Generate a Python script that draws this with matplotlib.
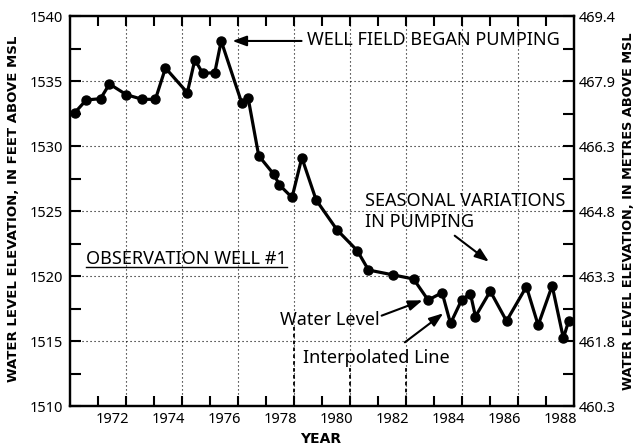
import numpy as np
import matplotlib.pyplot as plt
from matplotlib.lines import Line2D

# ==================== DATA ====================
# Water level readings, observation well #1 (year, feet above MSL)
years = [1970.67, 1971.08, 1971.59, 1971.91, 1972.51, 1973.08, 1973.55, 1973.91,
         1974.69, 1974.96, 1975.24, 1975.67, 1975.90, 1976.63, 1976.86, 1977.24,
         1977.78, 1977.98, 1978.43, 1978.78, 1979.29, 1980.04, 1980.76, 1981.16,
         1982.05, 1982.77, 1983.29, 1983.79, 1984.09, 1984.49, 1984.80, 1984.98,
         1985.51, 1986.09, 1986.80, 1987.22, 1987.72, 1988.12, 1988.31]
levels = [1532.56, 1533.54, 1533.64, 1534.77, 1533.95, 1533.59, 1533.59, 1536.00,
          1534.10, 1536.64, 1535.59, 1535.64, 1538.08, 1533.33, 1533.72, 1529.25,
          1527.82, 1527.00, 1526.04, 1529.10, 1525.85, 1523.54, 1521.95, 1520.46,
          1520.08, 1519.77, 1518.15, 1518.72, 1516.35, 1518.17, 1518.65, 1516.88,
          1518.83, 1516.54, 1519.18, 1516.22, 1519.25, 1515.22, 1516.55]

year_labels = [1972, 1974, 1976, 1978, 1980, 1982, 1984, 1986, 1988]
feet_ticks = [1510, 1515, 1520, 1525, 1530, 1535, 1540]
metre_labels = ['460.3', '461.8', '463.3', '464.8', '466.3', '467.9', '469.4']

REG = ['Noto Sans', 'DejaVu Sans']
BOLD = ['DejaVu Sans']

# ==================== FIGURE ====================
fig = plt.figure(figsize=(6.37, 4.48), dpi=100)
ax = fig.add_axes([70 / 637, 1 - 406 / 448, 504 / 637, 390 / 448])

ax.set_xlim(1970.5, 1988.5)
ax.set_ylim(1510, 1540)

# dotted grid
for gx in np.arange(1972.5, 1987, 2):
    ax.axvline(gx, color='black', lw=0.8, ls=(0, (1, 2.6)), zorder=1)
for gy in feet_ticks[1:-1]:
    ax.axhline(gy, color='black', lw=0.8, ls=(0, (1, 2.6)), zorder=1)

# heavier dashes near the bottom (print artefacts of the original)
ax.vlines(1978.5, 1510, 1516.3, color='black', lw=1.3, ls=(0, (2, 1.8)), zorder=1)
ax.vlines([1980.5, 1982.5], 1510, 1512.9, color='black', lw=1.3, ls=(0, (2, 1.8)), zorder=1)

# water level line
ax.plot(years, levels, color='black', lw=2.3, marker='o', markersize=6.5,
        clip_on=False, zorder=3)

# ticks
ax.set_xticks(year_labels)
ax.set_xticklabels([str(y) for y in year_labels], fontsize=10.5, family=REG)
ax.set_xticks(np.arange(1971.5, 1988, 1), minor=True)
ax.tick_params(axis='x', which='major', length=0, pad=4)
ax.tick_params(axis='x', which='minor', direction='in', length=7, width=1.5,
               top=True, bottom=True)

ax.set_yticks(feet_ticks)
ax.set_yticklabels([str(v) for v in feet_ticks], fontsize=10.5, family=REG)
ax.set_yticks(np.arange(1512.5, 1540, 5), minor=True)
ax.tick_params(axis='y', which='both', direction='in', length=8, width=1.5, pad=5)

ax2 = ax.twinx()
ax2.set_ylim(1510, 1540)
ax2.set_yticks(feet_ticks)
ax2.set_yticklabels(metre_labels, fontsize=10.5, family=REG)
ax2.set_yticks(np.arange(1512.5, 1540, 5), minor=True)
ax2.tick_params(axis='y', which='both', direction='in', length=8, width=1.5, pad=3.5)

for a in (ax, ax2):
    for s in a.spines.values():
        s.set_linewidth(1.6)

# ==================== ANNOTATIONS ====================
arrow = dict(arrowstyle='-|>,head_length=0.6,head_width=0.22', color='black',
             lw=1.5, mutation_scale=14, shrinkA=0, shrinkB=0)

ax.annotate('', xy=(1976.30, 1538.08), xytext=(1978.77, 1538.08), arrowprops=arrow)
ax.text(1978.95, 1537.77, 'WELL FIELD BEGAN PUMPING', fontsize=13, family=REG,
        va='baseline', ha='left')

ax.text(1981.02, 1525.38, 'SEASONAL VARIATIONS', fontsize=13, family=REG,
        va='baseline', ha='left')
ax.text(1981.02, 1523.79, 'IN PUMPING', fontsize=13, family=REG,
        va='baseline', ha='left')
ax.annotate('', xy=(1985.46, 1521.10), xytext=(1984.24, 1523.10), arrowprops=arrow)

obs = ax.text(1971.08, 1520.92, 'OBSERVATION WELL #1', fontsize=13, family=REG,
              va='baseline', ha='left')

ax.text(1978.0, 1516.23, 'Water Level', fontsize=13, family=REG,
        va='baseline', ha='left')
ax.annotate('', xy=(1983.09, 1518.13), xytext=(1981.63, 1516.95), arrowprops=arrow)

ax.text(1978.81, 1513.33, 'Interpolated Line', fontsize=13, family=REG,
        va='baseline', ha='left')
ax.annotate('', xy=(1983.83, 1517.13), xytext=(1982.46, 1514.90), arrowprops=arrow)

# axis titles
fig.text(14 / 637, 1 - 209 / 448, 'WATER LEVEL ELEVATION, IN FEET ABOVE MSL',
         rotation=90, ha='center', va='center', fontsize=9.5, fontweight='bold',
         family=BOLD)
fig.text(628 / 637, 1 - 211 / 448, 'WATER LEVEL ELEVATION, IN METRES ABOVE MSL',
         rotation=90, ha='center', va='center', fontsize=9.3, fontweight='bold',
         family=BOLD)
fig.text(321 / 637, 1 - 439 / 448, 'YEAR', ha='center', va='center',
         fontsize=10, fontweight='bold', family=BOLD)

# underline for the well name
fig.canvas.draw()
bb = obs.get_window_extent(fig.canvas.get_renderer())
inv = fig.transFigure.inverted()
(x0, y0), (x1, _) = inv.transform([(bb.x0, bb.y0 + 1), (bb.x1, bb.y0 + 1)])
fig.add_artist(Line2D([x0, x1], [y0, y0], color='black', lw=1.0,
                      transform=fig.transFigure))

fig.savefig('out.png', dpi=100)
